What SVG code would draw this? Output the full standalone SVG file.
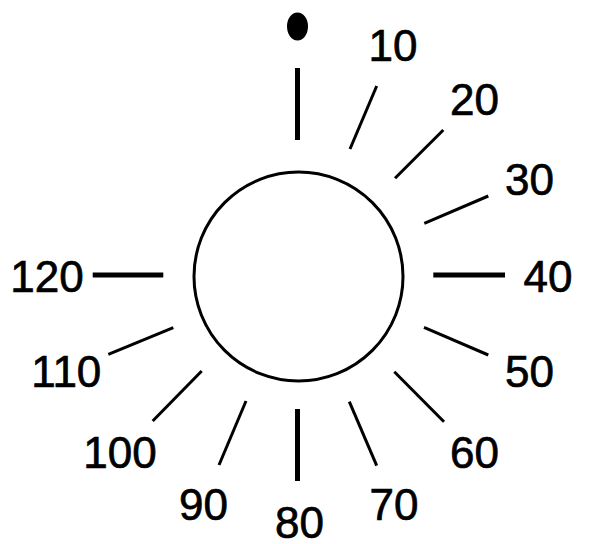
<svg xmlns="http://www.w3.org/2000/svg" width="589" height="544" viewBox="0 0 589 544">
<style>
.t{font-family:"Liberation Sans",Arial,sans-serif;font-size:44px;fill:#000;stroke:#000;stroke-width:0.7}
.thin{stroke:#000;stroke-width:3;stroke-linecap:butt}
.thick{stroke:#000;stroke-width:5;stroke-linecap:butt}
</style>
<rect width="589" height="544" fill="#fff"/>
<g id="dial">
<circle cx="298.5" cy="276.5" r="104.5" fill="none" stroke="#000" stroke-width="3"/>
</g>
<g id="marker">
<ellipse cx="297.5" cy="26.5" rx="10.5" ry="14" fill="#000"/>
</g>
<g id="ticks">
<line class="thick" x1="297.5" y1="68" x2="297.5" y2="140"/>
<line class="thin" x1="376.7" y1="86" x2="350" y2="149"/>
<line class="thin" x1="443.3" y1="130" x2="395" y2="178.3"/>
<line class="thin" x1="488.3" y1="196" x2="424.3" y2="223.3"/>
<line class="thick" x1="433.3" y1="275" x2="505" y2="275"/>
<line class="thin" x1="424" y1="327.3" x2="488.3" y2="355"/>
<line class="thin" x1="394.3" y1="371.7" x2="444" y2="421.7"/>
<line class="thin" x1="349.3" y1="401.7" x2="376.7" y2="465.7"/>
<line class="thick" x1="297.5" y1="409" x2="297.5" y2="481"/>
<line class="thin" x1="246" y1="401" x2="219" y2="465"/>
<line class="thin" x1="201.7" y1="371" x2="152.7" y2="421"/>
<line class="thin" x1="173.3" y1="327.7" x2="108.3" y2="354.3"/>
<line class="thick" x1="92.7" y1="275" x2="163.3" y2="275"/>
</g>
<g id="labels">
<text class="t" x="368.5" y="61">10</text>
<text class="t" x="450" y="115">20</text>
<text class="t" x="505" y="195">30</text>
<text class="t" x="523.5" y="291.7">40</text>
<text class="t" x="505" y="386.7">50</text>
<text class="t" x="450" y="467.7">60</text>
<text class="t" x="369.5" y="520">70</text>
<text class="t" x="275" y="537.5">80</text>
<text class="t" x="179" y="520">90</text>
<text class="t" x="83.2" y="468.3">100</text>
<text class="t" x="31.2" y="386.7">110</text>
<text class="t" x="10.2" y="291.7">120</text>
</g>
</svg>
